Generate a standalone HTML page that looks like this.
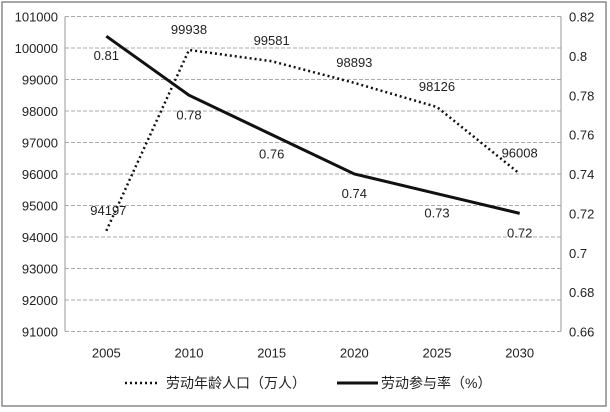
<!DOCTYPE html>
<html><head><meta charset="utf-8"><style>
body{margin:0;background:#fff;}
svg{display:block;font-family:"Liberation Sans","Noto Sans CJK SC",sans-serif;}
</style></head><body>
<svg id="c" width="610" height="412">
<rect x="2" y="2" width="604" height="404" fill="#fff" stroke="#888" stroke-width="1.5"/>
<g id="grid"></g><g id="axes"></g><g id="marks"></g>
<g>
<line x1="125" y1="383" x2="160" y2="383" stroke="#111" stroke-width="2.5" stroke-dasharray="2,3"/>
<text x="166" y="388" font-size="14" fill="#222">劳动年龄人口（万人）</text>
<line x1="337" y1="383" x2="378" y2="383" stroke="#111" stroke-width="3"/>
<text x="381" y="388" font-size="14" fill="#222">劳动参与率（%）</text>
</g>
</svg>
<script>
const categories=["2005","2010","2015","2020","2025","2030"];
const population=[94197,99938,99581,98893,98126,96008];
const rate=[0.81,0.78,0.76,0.74,0.73,0.72];
const leftTicks=[91000,92000,93000,94000,95000,96000,97000,98000,99000,100000,101000];
const rightTicks=["0.66","0.68","0.7","0.72","0.74","0.76","0.78","0.8","0.82"];
const NS="http://www.w3.org/2000/svg";
const X0=65,X1=561,Y0=331.5,Y1=16.5;
const xs=i=>X0+(i+0.5)*(X1-X0)/categories.length;
const yL=v=>Y0-(v-91000)/(101000-91000)*(Y0-Y1);
const yR=v=>Y0-(v-0.66)/(0.82-0.66)*(Y0-Y1);
function mk(p,t,a){const e=document.createElementNS(NS,t);for(const k in a)e.setAttribute(k,a[k]);document.getElementById(p).appendChild(e);return e;}
leftTicks.forEach(v=>{
 const y=yL(v);
 const l=mk('grid','line',{x1:X0,x2:X1,y1:y,y2:y,stroke:'#aaa','stroke-dasharray':'4,2'});
 
 
 const t=mk('axes','text',{x:X0-7,y:y+5,'text-anchor':'end','font-size':'13',fill:'#222'});
 t.textContent=v;
 
 
});
rightTicks.forEach(s=>{
 const y=yR(+s);
 const t=mk('axes','text',{x:X1+8,y:y+5,'font-size':'13',fill:'#222'});
 t.textContent=s;
 
 
});
const la=mk('axes','line',{x1:X0,x2:X0,y1:Y1,y2:Y0,stroke:'#999'});


const ra=mk('axes','line',{x1:X1,x2:X1,y1:Y1,y2:Y0,stroke:'#999'});


categories.forEach((c,i)=>{
 const t=mk('axes','text',{x:xs(i),y:Y0+26,'text-anchor':'middle','font-size':'13',fill:'#222'});
 t.textContent=c;
 
 
});
const pp=mk('marks','polyline',{points:population.map((v,i)=>xs(i)+','+yL(v)).join(' '),fill:'none',stroke:'#111','stroke-width':'2.5','stroke-dasharray':'2,3'});


const rp=mk('marks','polyline',{points:rate.map((v,i)=>xs(i)+','+yR(v)).join(' '),fill:'none',stroke:'#111','stroke-width':'3'});


population.forEach((v,i)=>{
 const dy=i===0?-10:-16;
 const t=mk('marks','text',{x:xs(i)+(i===0?2:0),y:yL(v)+dy+(i===0?-6:0),'text-anchor':'middle','font-size':'13',fill:'#222'});
 t.textContent=v;
 
 
});
rate.forEach((v,i)=>{
 const t=mk('marks','text',{x:xs(i),y:yR(v)+24,'text-anchor':'middle','font-size':'13',fill:'#222'});
 t.textContent=v;
 
 
});
</script>
</body></html>
